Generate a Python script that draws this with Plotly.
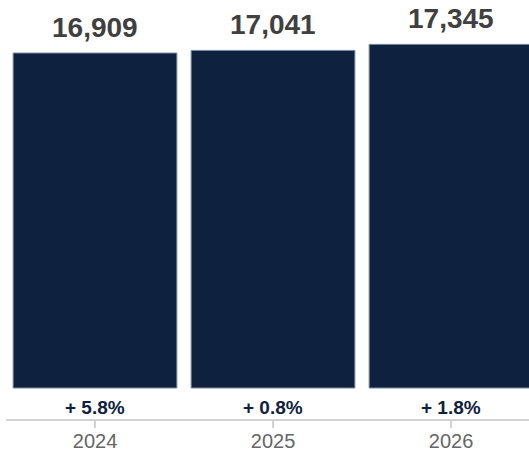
import plotly.graph_objects as go

# Annual totals with year-over-year growth
years = ["2024", "2025", "2026"]
totals = [16909, 17041, 17345]
growth = ["+ 5.8%", "+ 0.8%", "+ 1.8%"]

BAR_COLOR = "#0e2240"
FONT = "Helvetica Neue, Helvetica, Arial, Liberation Sans, sans-serif"

fig = go.Figure(
    go.Bar(
        x=years,
        y=totals,
        marker=dict(color=BAR_COLOR, line=dict(color="#7d8ba0", width=1)),
        hoverinfo="skip",
    )
)

# Value labels above the bars (category axis: annotations use serial positions)
for i, v in enumerate(totals):
    fig.add_annotation(
        x=i, y=v, xref="x", yref="y",
        text=f"<b>{v:,}</b>",
        showarrow=False, yanchor="bottom", yshift=8,
        font=dict(family=FONT, size=28, color="#404040"),
    )

# Growth labels between bars and the axis line
for i, g in enumerate(growth):
    fig.add_annotation(
        x=i, y=0, xref="x", yref="paper",
        text=f"<b>{g}</b>",
        showarrow=False, yanchor="middle", yshift=12,
        font=dict(family=FONT, size=19, color=BAR_COLOR),
    )

fig.update_layout(
    width=529, height=455,
    margin=dict(l=6, r=0, t=0, b=36),
    paper_bgcolor="white", plot_bgcolor="white",
    bargap=0.08,
    showlegend=False,
    xaxis=dict(
        type="category",
        range=[-0.5, 2.438],
        showline=True, linecolor="#d3d3d3", linewidth=2,
        ticks="outside", ticklen=7, tickcolor="#d3d3d3", tickwidth=2,
        ticklabelstandoff=-4,
        tickfont=dict(family=FONT, size=20, color="#666666"),
        showgrid=False, zeroline=False,
    ),
    yaxis=dict(
        range=[-1563.5, 19584],
        visible=False, showgrid=False, zeroline=False,
    ),
)

fig.write_html("out.html")
